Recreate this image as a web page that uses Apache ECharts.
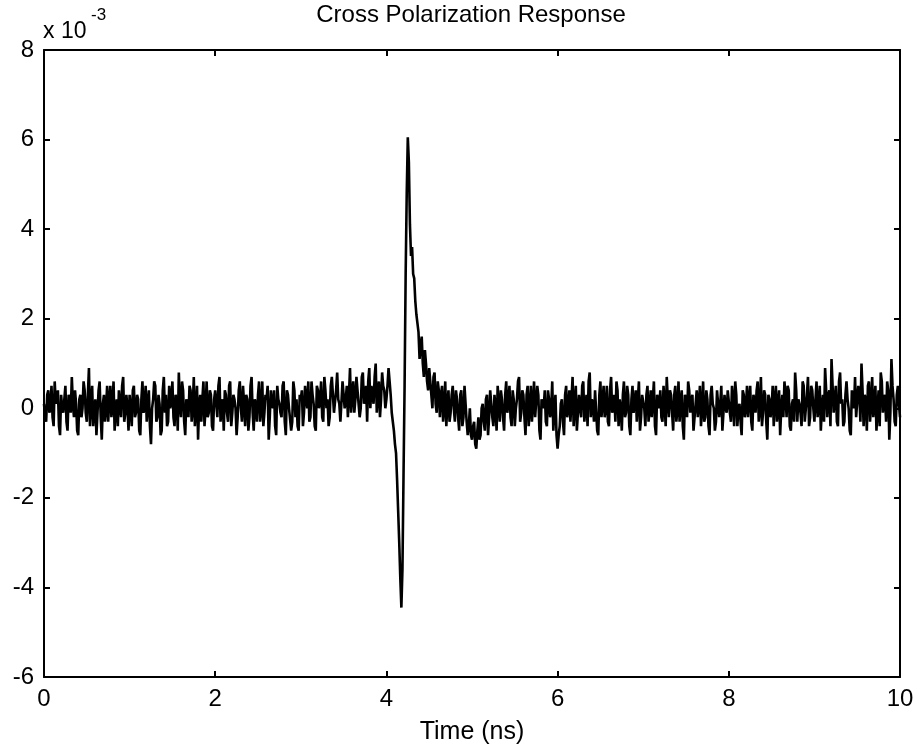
<!DOCTYPE html>
<html>
<head>
<meta charset="utf-8">
<script src="https://cdn.jsdelivr.net/npm/echarts@6/dist/echarts.min.js"></script>
<style>
html,body{margin:0;padding:0;background:#fff;}
#chart{width:919px;height:751px;}
</style>
</head>
<body>
<div id="chart"></div>
<script>
// Values in units of 1e-3. segN: samples at N + k*0.025 ns; midN: samples half a step later.
var timeStep = 0.0125;
var seg0 = [0.1,-0.3,0.4,0.0,-0.2,0.6,0.2,-0.4,0.3,-0.1,0.5,-0.5,0.2,0.7,-0.2,0.1,-0.6,0.3,0.0,0.4,-0.3,0.9,0.1,-0.4,0.2,-0.1,0.6,-0.7,0.3,0.0,-0.3,0.5,0.1,-0.5,0.2,0.4,-0.2,0.7,-0.1,0.0];
var mid0 = [-0.2,0.3,-0.1,0.5,-0.4,0.1,0.4,-0.6,0.0,0.2,-0.3,0.3,-0.1,0.1,0.4,-0.5,0.2,-0.2,0.6,-0.1,0.3,-0.4,0.5,0.0,-0.6,0.4,-0.2,0.1,-0.3,0.5,0.2,-0.2,0.6,0.0,-0.4,0.1,0.5,-0.3,0.3,-0.5];
var seg1 = [0.3,-0.4,0.5,-0.1,0.2,-0.6,0.6,0.0,-0.3,0.4,-0.8,0.2,0.5,-0.2,0.1,-0.5,0.7,0.3,-0.3,0.0,0.6,-0.4,0.2,0.8,-0.2,0.4,-0.6,0.1,0.5,-0.3,0.7,0.0,-0.7,0.3,0.2,-0.4,0.6,-0.1,0.3,-0.5];
var mid1 = [0.0,0.4,-0.2,0.3,-0.5,0.2,-0.1,0.5,0.1,-0.4,0.0,0.6,-0.3,0.3,-0.6,0.4,-0.1,-0.4,0.5,0.2,-0.2,0.3,-0.5,0.1,0.6,-0.3,0.2,-0.2,0.4,0.0,-0.4,0.5,0.1,-0.3,0.6,0.0,-0.2,0.4,-0.4,0.2];
var seg2 = [0.4,-0.2,0.7,0.1,-0.5,0.3,-0.3,0.6,-0.1,0.2,-0.6,0.4,0.0,0.5,-0.4,0.2,-0.2,0.7,-0.5,0.1,0.3,-0.3,0.6,-0.1,0.2,-0.7,0.4,0.0,-0.4,0.5,0.1,-0.2,0.6,-0.6,0.3,0.0,-0.3,0.4,0.2,-0.5];
var mid2 = [0.1,0.5,-0.3,0.2,0.4,-0.1,0.5,-0.4,0.3,0.0,-0.2,0.6,-0.3,0.1,0.3,-0.5,0.5,-0.1,0.2,-0.3,0.6,0.0,-0.4,0.3,0.5,-0.2,0.1,0.4,-0.6,0.2,-0.1,0.5,-0.3,0.4,0.0,-0.5,0.6,-0.2,-0.4,0.3];
var seg3 = [0.2,-0.4,0.5,0.0,-0.3,0.6,0.1,-0.5,0.4,0.2,-0.2,0.7,0.0,-0.4,0.5,0.3,-0.1,0.8,0.1,-0.3,0.6,0.2,-0.2,0.9,0.3,-0.1,0.7,0.4,0.0,0.8,0.2,-0.3,0.9,0.5,0.1,1.0,0.3,-0.2,0.8,0.4];
var mid3 = [0.4,-0.1,0.2,0.6,-0.2,0.3,-0.4,0.5,0.0,0.6,-0.3,0.4,0.2,-0.2,0.7,-0.1,0.4,0.2,-0.3,0.6,0.0,0.5,0.3,-0.1,0.6,0.2,0.4,-0.2,0.7,0.1,0.5,0.6,0.0,0.3,0.7,-0.1,0.6,0.2,0.5,0.0];
var seg4 = [0.2,0.9,0.3,-0.3,-0.8,-1.6,-3.0,-4.45,-1.5,3.0,6.05,4.1,3.6,2.9,2.1,1.7,1.4,1.0,1.3,0.6,0.9,0.3,0.7,0.1,0.6,-0.2,0.5,0.0,-0.4,0.4,-0.1,0.5,-0.3,0.2,-0.5,0.4,-0.2,0.1,-0.6,0.0];
var mid4 = [0.5,0.6,-0.1,-0.5,-1.0,-2.3,-3.8,-3.6,0.5,4.8,5.5,3.4,3.0,2.4,1.9,1.1,1.6,0.7,1.0,0.4,0.6,0.0,0.8,-0.1,0.4,0.3,-0.3,0.6,0.1,-0.3,0.3,0.0,0.4,-0.2,0.3,-0.4,0.5,-0.3,-0.4,-0.6];
var seg5 = [-0.7,-0.3,-0.9,-0.2,-0.6,0.1,-0.5,0.3,-0.2,0.4,-0.4,0.0,0.5,-0.3,0.2,-0.5,0.6,0.1,-0.2,0.4,-0.4,0.2,0.7,-0.1,0.3,-0.6,0.5,0.0,-0.3,0.6,-0.2,0.3,-0.7,0.1,0.4,-0.4,0.2,0.0,-0.5,0.3];
var mid5 = [-0.4,-0.8,-0.5,-0.7,0.0,-0.3,0.2,-0.6,0.4,-0.2,0.3,-0.5,0.1,0.4,-0.2,0.3,-0.1,0.5,-0.4,0.2,0.0,0.6,-0.3,0.4,-0.2,0.3,-0.4,0.5,0.1,-0.2,0.5,-0.5,0.2,0.0,-0.3,0.4,-0.2,0.6,0.0,-0.6];
var seg6 = [-0.9,-0.4,0.2,-0.6,0.5,0.0,-0.3,0.7,0.1,-0.5,0.3,-0.2,0.6,0.0,-0.4,0.8,0.2,-0.3,0.4,-0.6,0.6,0.1,-0.2,0.5,-0.4,0.7,0.0,-0.3,0.4,0.2,-0.5,0.6,-0.1,0.3,-0.6,0.5,0.1,-0.3,0.6,-0.2];
var mid6 = [-0.6,0.1,-0.3,0.3,-0.2,0.4,0.2,-0.4,0.5,-0.1,0.0,0.5,-0.3,0.3,0.6,-0.2,0.1,0.4,-0.5,0.3,-0.2,0.5,0.0,-0.3,0.4,-0.1,0.3,0.6,-0.4,0.0,0.3,-0.2,0.5,-0.4,0.2,-0.1,0.4,0.2,-0.5,0.3];
var seg7 = [0.3,-0.4,0.5,0.0,-0.2,0.6,-0.6,0.2,0.4,-0.3,0.1,0.7,-0.2,0.3,-0.5,0.5,0.0,-0.3,0.4,-0.7,0.2,0.6,-0.1,0.3,-0.5,0.4,0.1,-0.4,0.6,-0.2,0.2,-0.6,0.5,0.0,-0.3,0.4,0.1,-0.5,0.3,-0.1];
var mid7 = [0.0,0.3,-0.3,0.4,0.2,-0.4,0.3,0.0,-0.2,0.5,-0.4,0.2,0.4,-0.1,0.3,-0.3,0.6,0.1,-0.4,0.3,-0.2,0.4,0.2,-0.5,0.1,-0.2,0.5,0.0,-0.3,0.4,-0.4,0.3,0.1,-0.5,0.4,-0.2,0.5,-0.1,0.0,0.4];
var seg8 = [0.4,-0.3,0.2,0.6,-0.4,0.1,-0.6,0.3,0.0,-0.2,0.5,-0.5,0.2,0.4,-0.3,0.7,-0.1,0.3,-0.7,0.2,0.0,-0.4,0.5,0.1,-0.6,0.3,0.6,-0.2,0.4,-0.5,0.2,0.8,-0.3,0.1,-0.4,0.5,0.0,0.7,-0.2,0.4];
var mid8 = [-0.1,0.5,-0.4,0.3,0.0,-0.3,0.4,-0.2,0.5,0.2,-0.3,0.3,-0.1,0.6,0.0,-0.4,0.4,-0.3,0.3,-0.2,0.5,0.2,-0.3,0.4,0.0,-0.2,0.3,0.5,-0.4,0.1,-0.3,0.4,0.2,-0.1,0.6,-0.3,0.3,-0.4,0.5,0.0];
var seg9 = [-0.3,0.6,0.1,-0.5,0.3,0.9,-0.2,0.4,1.1,-0.1,0.5,-0.4,0.8,0.2,-0.3,0.6,0.0,-0.6,0.4,0.7,-0.2,0.3,1.0,-0.4,0.2,0.5,-0.3,0.7,0.1,-0.5,0.4,0.8,-0.1,0.3,0.6,-0.7,1.1,0.2,-0.4,0.5,-0.2];
var mid9 = [0.2,-0.2,0.5,0.0,-0.3,0.4,0.3,-0.4,0.5,0.2,-0.3,0.6,0.1,-0.4,0.3,0.2,-0.5,0.4,0.0,-0.2,0.5,-0.3,0.4,0.3,-0.5,0.6,0.1,-0.2,0.5,0.0,-0.4,0.6,0.2,-0.3,0.4,-0.1,0.5,-0.3,0.3,0.1];
var xTicks = [0,2,4,6,8,10];
var yTicks = [-6,-4,-2,0,2,4,6,8];

var segs = [seg0,seg1,seg2,seg3,seg4,seg5,seg6,seg7,seg8,seg9];
var mids = [mid0,mid1,mid2,mid3,mid4,mid5,mid6,mid7,mid8,mid9];
var values = [];
segs.forEach(function(s, n){
  s.forEach(function(v, k){
    values.push(v);
    if (k < mids[n].length) values.push(mids[n][k]);
  });
});
var data = values.map(function(v,i){ return [+(i*timeStep).toFixed(4), v]; });

var FONT = 'Liberation Sans, Arial, sans-serif';
var chart = echarts.init(document.getElementById('chart'), null, {renderer:'canvas'});
var axisCommon = {
  axisLine:{show:true, onZero:false, lineStyle:{color:'#000', width:2}},
  axisTick:{show:true, inside:true, length:6, lineStyle:{color:'#000', width:2}},
  splitLine:{show:false}
};
chart.setOption({
  animation:false,
  backgroundColor:'#fff',
  title:{text:'Cross Polarization Response', left:466, top:-2, textAlign:'center',
    textStyle:{fontFamily:FONT, fontSize:24, fontWeight:'normal', color:'#000'}},
  grid:{left:44, right:19, top:50, bottom:74, containLabel:false, outerBoundsMode:'none'},
  xAxis:[
    Object.assign({type:'value', position:'bottom', min:0, max:10, interval:2,
      name:'Time (ns)', nameLocation:'middle', nameGap:43,
      nameTextStyle:{fontFamily:FONT, fontSize:25, color:'#000'},
      axisLabel:{fontFamily:FONT, fontSize:24, color:'#000', margin:10,
        formatter:function(v){ return xTicks.indexOf(v) >= 0 ? String(v) : ''; }}}, axisCommon),
    Object.assign({type:'value', position:'top', min:0, max:10, interval:2,
      axisLabel:{show:false}}, axisCommon)
  ],
  yAxis:[
    Object.assign({type:'value', position:'left', min:-6, max:8, interval:2,
      axisLabel:{fontFamily:FONT, fontSize:24, color:'#000', margin:10,
        formatter:function(v){ return yTicks.indexOf(v) >= 0 ? String(v) : ''; }}}, axisCommon),
    Object.assign({type:'value', position:'right', min:-6, max:8, interval:2,
      axisLabel:{show:false}}, axisCommon)
  ],
  graphic:[
    {type:'text', x:43, y:32, style:{text:'x 10', fontFamily:FONT, fontSize:23, fill:'#000', verticalAlign:'middle', align:'left'}},
    {type:'text', x:91, y:15, style:{text:'-3', fontFamily:FONT, fontSize:17, fill:'#000', verticalAlign:'middle', align:'left'}}
  ],
  series:[{
    type:'line', data:data, xAxisIndex:0, yAxisIndex:0,
    showSymbol:false, symbol:'none',
    lineStyle:{color:'#000', width:2.6},
    clip:true
  }]
});
</script>
</body>
</html>
